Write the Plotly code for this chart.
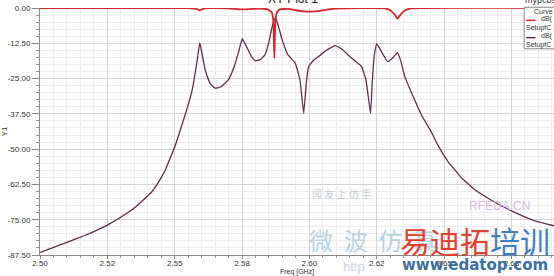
import plotly.graph_objects as go

# ---- data ----
freq_s21 = [2.500, 2.5053, 2.510, 2.5166, 2.520, 2.525, 2.5298, 2.5355, 2.5416, 2.5445,
            2.5465, 2.548, 2.550, 2.5525, 2.5552, 2.5565, 2.5576, 2.5585, 2.5593, 2.5600,
            2.5613, 2.563, 2.565, 2.567, 2.5699, 2.572, 2.5736, 2.5751, 2.5762, 2.5773,
            2.5787, 2.580, 2.5818, 2.5835, 2.585, 2.5859, 2.5868, 2.5875, 2.5885, 2.5899,
            2.592, 2.5948, 2.5965, 2.5979, 2.5988, 2.5997, 2.6015, 2.6034, 2.606, 2.6096,
            2.612, 2.6157, 2.6194, 2.621, 2.6227, 2.6233, 2.6237, 2.6243, 2.625, 2.6265,
            2.6290, 2.6308, 2.6327, 2.6340, 2.6354, 2.6391, 2.6416, 2.6453, 2.6477, 2.6514,
            2.6563, 2.6613, 2.6674, 2.6736, 2.6785, 2.6834, 2.6910]
db_s21 = [-86.6, -84.7, -83.0, -80.6, -79.2, -76.9, -74.2, -70.5, -65.0, -60.9,
          -57.4, -53.9, -49.3, -42.0, -33.7, -29.0, -23.1, -17.5, -12.3, -15.5,
          -21.9, -26.5, -28.4, -28.0, -25.5, -21.0, -16.0, -10.9, -12.8, -14.9,
          -17.5, -18.7, -18.3, -16.6, -12.0, -7.8, -4.5, -3.5, -6.5, -11.3,
          -16.5, -19.6, -25.5, -37.3, -27.0, -20.8, -18.5, -17.2, -15.2, -13.3,
          -14.5, -17.8, -20.8, -25.5, -37.3, -27.0, -20.8, -15.5, -12.7, -15.0,
          -19.0, -17.8, -15.8, -19.0, -24.3, -32.6, -37.9, -44.0, -48.6, -54.3,
          -60.0, -64.3, -68.0, -71.2, -73.4, -75.3, -77.2]

freq_s11 = [2.500, 2.555, 2.558, 2.5593, 2.5605, 2.563, 2.570, 2.5745, 2.578, 2.581,
            2.5845, 2.586, 2.5866, 2.5870, 2.5874, 2.588, 2.589, 2.592, 2.595, 2.598,
            2.601, 2.604, 2.607, 2.610, 2.628, 2.630, 2.6318, 2.6327, 2.6337, 2.6355,
            2.638, 2.6910]
db_s11 = [0.0, -0.05, -0.3, -0.8, -0.3, -0.05, -0.1, -0.5, -0.4, -0.2,
          -0.5, -1.5, -4.5, -17.8, -4.5, -1.5, -0.5, -0.3, -0.8, -1.2,
          -1.3, -1.0, -0.5, -0.2, -0.1, -0.8, -2.5, -3.8, -2.5, -0.8,
          -0.1, 0.0]

x_tickvals = [2.500, 2.525, 2.550, 2.575, 2.600, 2.625, 2.650, 2.675]
x_ticktext = ["2.50", "2.52", "2.55", "2.58", "2.60", "2.62", "2.65", "2.68"]
y_tickvals = [0.0, -12.5, -25.0, -37.5, -50.0, -62.5, -75.0, -87.5]
y_ticktext = ["0.00", "-12.50", "-25.00", "-37.50", "-50.00", "-62.50", "-75.00", "-87.50"]

FONT = "Liberation Sans, Arial, sans-serif"

fig = go.Figure()
fig.add_trace(go.Scatter(x=freq_s21, y=db_s21, mode="lines",
                         line=dict(color="#5a2f4e", width=1.3, shape="spline", smoothing=0.3),
                         showlegend=False))
fig.add_trace(go.Scatter(x=freq_s11, y=db_s11, mode="lines",
                         line=dict(color="#d8262a", width=1.8, shape="spline", smoothing=0.3),
                         showlegend=False))

fig.update_layout(
    width=554, height=276,
    margin=dict(l=37, r=0, t=8, b=21),
    paper_bgcolor="white", plot_bgcolor="white",
    font=dict(family=FONT, size=8, color="#333333"),
    showlegend=False,
)
fig.update_xaxes(
    range=[2.5, 2.6908],
    tickmode="array", tickvals=x_tickvals, ticktext=x_ticktext,
    showgrid=True, gridcolor="#d4d4d4", gridwidth=1,
    ticks="outside", ticklen=3, tickcolor="#888888",
    ticklabelstandoff=-3,
    showline=True, linecolor="#8a8a8a", linewidth=1,
    zeroline=False,
    tickfont=dict(size=8, color="#333333"),
    minor=dict(tickmode="linear", tick0=2.5, dtick=0.005, showgrid=True,
               gridcolor="#ededed", ticks="outside", ticklen=2, tickcolor="#999999"),
    title=dict(text="Freq [GHz]", font=dict(size=7, color="#333333"), standoff=0),
)
fig.update_yaxes(
    range=[-87.5, 0],
    tickmode="array", tickvals=y_tickvals, ticktext=y_ticktext,
    showgrid=True, gridcolor="#d4d4d4", gridwidth=1,
    ticks="outside", ticklen=7, tickcolor="#888888",
    showline=True, linecolor="#8a8a8a", linewidth=1,
    zeroline=False,
    tickfont=dict(size=8, color="#333333"),
    minor=dict(tickmode="linear", tick0=0, dtick=2.5, showgrid=True,
               gridcolor="#ededed", ticks="outside", ticklen=3, tickcolor="#999999"),
    title=dict(text="Y1", font=dict(size=8, color="#333333"), standoff=2),
)

# title (cut off at top) and design name
fig.add_annotation(text="XY Plot 1", xref="paper", yref="paper", x=0.493, y=1,
                   xanchor="center", yanchor="bottom", yshift=0, showarrow=False,
                   font=dict(size=12, color="#222222"))
fig.add_annotation(text="mypcbso", xref="paper", yref="paper", x=0.94, y=1,
                   xanchor="left", yanchor="bottom", yshift=1, showarrow=False,
                   font=dict(size=9, color="#333333"))

# legend box (Curve Info)
lx0 = 0.942
fig.add_shape(type="rect", xref="paper", yref="paper", x0=lx0, x1=1.02, y0=0.835, y1=1.003,
              line=dict(color="#888888", width=1), fillcolor="white", layer="above")
fig.add_annotation(text="Curve Info", xref="paper", yref="paper", x=lx0 + 0.015, y=0.985,
                   xanchor="left", yanchor="middle", showarrow=False,
                   font=dict(size=7, color="#333333"))
fig.add_shape(type="line", xref="paper", yref="paper", x0=lx0 + 0.004, x1=lx0 + 0.022,
              y0=0.95, y1=0.95, line=dict(color="#d8262a", width=1.5), layer="above")
fig.add_annotation(text="dB(", xref="paper", yref="paper", x=lx0 + 0.029, y=0.955,
                   xanchor="left", yanchor="middle", showarrow=False,
                   font=dict(size=7, color="#333333"))
fig.add_annotation(text="SetupfC :", xref="paper", yref="paper", x=lx0, y=0.921,
                   xanchor="left", yanchor="middle", showarrow=False,
                   font=dict(size=7, color="#333333"))
fig.add_shape(type="line", xref="paper", yref="paper", x0=lx0 + 0.004, x1=lx0 + 0.022,
              y0=0.88, y1=0.88, line=dict(color="#5a2f4e", width=1.5), layer="above")
fig.add_annotation(text="dB(", xref="paper", yref="paper", x=lx0 + 0.029, y=0.885,
                   xanchor="left", yanchor="middle", showarrow=False,
                   font=dict(size=7, color="#333333"))
fig.add_annotation(text="SetupfC :", xref="paper", yref="paper", x=lx0, y=0.852,
                   xanchor="left", yanchor="middle", showarrow=False,
                   font=dict(size=7, color="#333333"))

# watermark texts
CJK = "Noto Sans CJK SC"
fig.add_annotation(text="闻 友 上 仿 手", xref="paper", yref="paper", x=0.586, y=0.247,
                   xanchor="center", yanchor="middle", showarrow=False,
                   font=dict(family=CJK, size=10, color="#c4ccd6"))
fig.add_annotation(text="RFEDA.CN", xref="paper", yref="paper", x=0.894, y=0.20,
                   xanchor="center", yanchor="middle", showarrow=False,
                   font=dict(family=FONT, size=12, color="#d9b8e6"))
fig.add_annotation(text="微  波  仿  真", xref="paper", yref="paper", x=0.52, y=0.061,
                   xanchor="left", yanchor="middle", showarrow=False,
                   font=dict(family=CJK, size=24, color="#b8d2e2"))
fig.add_annotation(text="<span style='color:#e2402c'>易迪拓</span><span style='color:#3f7fc4'>培训</span>",
                   xref="paper", yref="paper", x=0.847, y=0.061,
                   xanchor="center", yanchor="middle", showarrow=False,
                   font=dict(family=CJK, size=30, color="#e2402c"))
fig.add_annotation(text="http", xref="paper", yref="paper", x=0.585, y=-0.045,
                   xanchor="left", yanchor="middle", showarrow=False,
                   font=dict(family=FONT, size=13, color="#c8d6e0"))
fig.add_annotation(text="<b>www.edatop.com</b>", xref="paper", yref="paper", x=0.847, y=-0.04,
                   xanchor="center", yanchor="middle", showarrow=False,
                   font=dict(family="DejaVu Sans", size=15, color="#3d6f9e"))

fig.write_html("out.html")
